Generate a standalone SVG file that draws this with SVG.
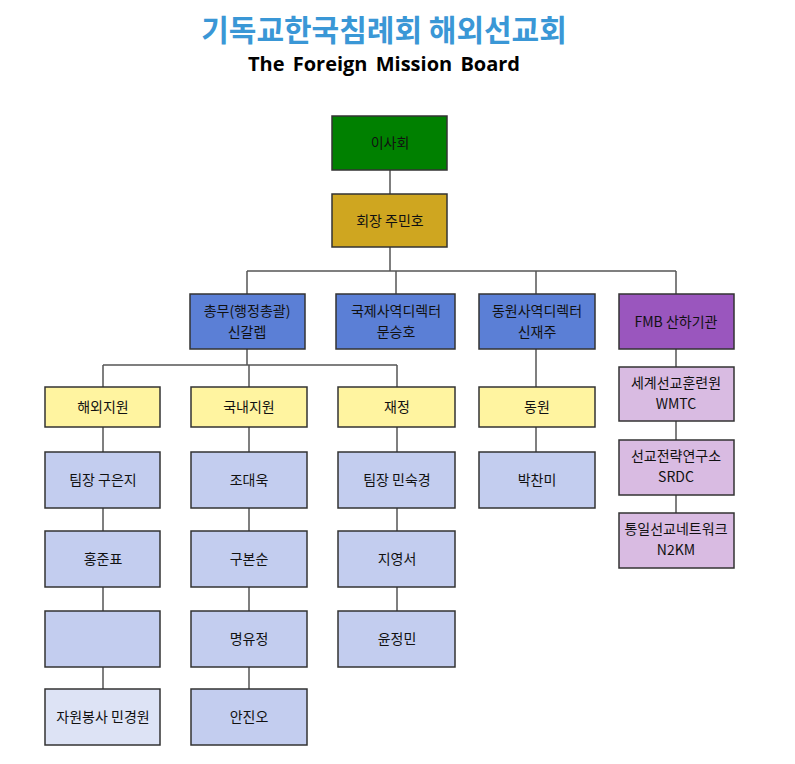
<svg xmlns="http://www.w3.org/2000/svg" width="795" height="764" viewBox="0 0 795 764">
<style>
text{font-family:"Noto Sans CJK KR","Noto Sans",sans-serif;font-size:14px;text-anchor:middle;fill:#111}
rect{stroke:#333;stroke-width:1.5}
.g{fill:#008000}.o{fill:#CFA620}.b{fill:#5B7FD6}.p{fill:#9A56BE}.y{fill:#FFF4A0}.l{fill:#C3CDEF}.ll{fill:#DDE3F5}.lp{fill:#D9BBE2}
#conn path{stroke:#555;stroke-width:1.5;fill:none}
</style>
<rect width="795" height="764" fill="#fff" style="stroke:none"/>
<text x="384" y="41" style="font-size:30px;font-weight:bold;fill:#3A97D6">기독교한국침례회 해외선교회</text>
<text x="384" y="71" style="font-size:20px;font-weight:bold;fill:#000;font-family:'Open Sans','Liberation Sans',sans-serif;word-spacing:3px">The Foreign Mission Board</text>
<g id="conn">
<path d="M390 170V194M390 247V271M247 271H676M247 271V294M396 271V294M536 271V294M676 271V294"/>
<path d="M247 349V365M103 365H397M103 365V387M249 365V387M397 365V387M536 349V387"/>
<path d="M103 427V452M103 508V531M103 587V611M103 667V689"/>
<path d="M249 427V452M249 508V531M249 587V611M249 667V689"/>
<path d="M397 427V452M397 508V531M397 587V611M536 427V452"/>
<path d="M676 349V367M676 421V440M676 495V513"/>
</g>
<g id="n1"><rect class="g" x="332" y="116" width="115" height="54"/><text x="390" y="148">이사회</text></g>
<g id="n2"><rect class="o" x="332" y="194" width="115" height="53"/><text x="390" y="226">회장 주민호</text></g>
<g id="n3"><rect class="b" x="190" y="294" width="115" height="55"/><text x="247" y="316">총무(행정총괄)</text><text x="247" y="337">신갈렙</text></g>
<g id="n4"><rect class="b" x="336" y="294" width="119" height="55"/><text x="396" y="316">국제사역디렉터</text><text x="396" y="337">문승호</text></g>
<g id="n5"><rect class="b" x="479" y="294" width="116" height="55"/><text x="537" y="316">동원사역디렉터</text><text x="537" y="337">신재주</text></g>
<g id="n6"><rect class="p" x="619" y="294" width="115" height="55"/><text x="676" y="327">FMB 산하기관</text></g>
<g id="y1"><rect class="y" x="45" y="387" width="115" height="40"/><text x="103" y="412">해외지원</text></g>
<g id="y2"><rect class="y" x="191" y="387" width="116" height="40"/><text x="249" y="412">국내지원</text></g>
<g id="y3"><rect class="y" x="338" y="387" width="117" height="40"/><text x="397" y="412">재정</text></g>
<g id="y4"><rect class="y" x="479" y="387" width="116" height="40"/><text x="537" y="412">동원</text></g>
<g id="a1"><rect class="l" x="45" y="452" width="115" height="56"/><text x="103" y="485">팀장 구은지</text></g>
<g id="a2"><rect class="l" x="45" y="531" width="115" height="56"/><text x="103" y="564">홍준표</text></g>
<g id="a3"><rect class="l" x="45" y="611" width="115" height="56"/></g>
<g id="a4"><rect class="ll" x="45" y="689" width="115" height="56"/><text x="103" y="722">자원봉사 민경원</text></g>
<g id="b1"><rect class="l" x="191" y="452" width="116" height="56"/><text x="249" y="485">조대욱</text></g>
<g id="b2"><rect class="l" x="191" y="531" width="116" height="56"/><text x="249" y="564">구본순</text></g>
<g id="b3"><rect class="l" x="191" y="611" width="116" height="56"/><text x="249" y="644">명유정</text></g>
<g id="b4"><rect class="l" x="191" y="689" width="116" height="56"/><text x="249" y="722">안진오</text></g>
<g id="c1"><rect class="l" x="338" y="452" width="117" height="56"/><text x="397" y="485">팀장 민숙경</text></g>
<g id="c2"><rect class="l" x="338" y="531" width="117" height="56"/><text x="397" y="564">지영서</text></g>
<g id="c3"><rect class="l" x="338" y="611" width="117" height="56"/><text x="397" y="644">윤정민</text></g>
<g id="d1"><rect class="l" x="479" y="452" width="116" height="56"/><text x="537" y="485">박찬미</text></g>
<g id="e1"><rect class="lp" x="619" y="367" width="115" height="54"/><text x="676" y="388">세계선교훈련원</text><text x="676" y="409">WMTC</text></g>
<g id="e2"><rect class="lp" x="619" y="440" width="115" height="55"/><text x="676" y="461">선교전략연구소</text><text x="676" y="482">SRDC</text></g>
<g id="e3"><rect class="lp" x="619" y="513" width="115" height="55"/><text x="676" y="534">통일선교네트워크</text><text x="676" y="555">N2KM</text></g>
</svg>
